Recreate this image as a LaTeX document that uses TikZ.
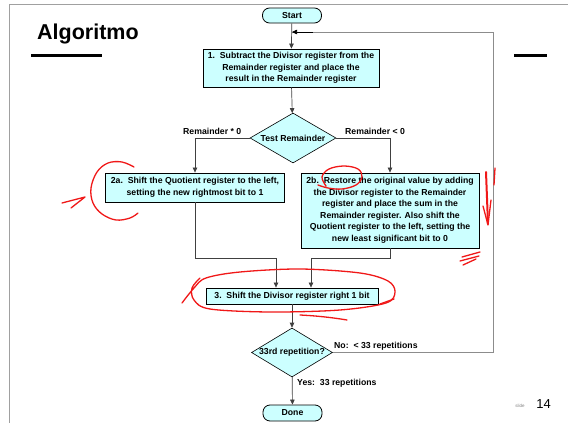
\documentclass[tikz,border=0pt]{standalone}
\usepackage{fontspec}
\setmainfont{Liberation Sans}
\usetikzlibrary{shapes.geometric,arrows.meta}
\definecolor{boxfill}{HTML}{CCFFFF}
\definecolor{framegray}{HTML}{A0A0A0}
\definecolor{wire}{HTML}{404040}
\definecolor{loopwire}{HTML}{8C8C8C}
\definecolor{pen}{HTML}{F01818}

\begin{document}
\begin{tikzpicture}[x=1pt,y=-1pt,
  every node/.style={font=\bfseries\fontsize{8.7}{11.5}\selectfont, inner sep=0pt},
  procbox/.style={draw=black, line width=0.8pt, fill=boxfill, align=center},
  terminal/.style={draw=black, line width=0.8pt, fill=boxfill, rounded corners=7pt,
                   minimum width=59pt, minimum height=15pt},
  decision/.style={diamond, draw=black, line width=0.6pt, fill=boxfill},
  flow/.style={draw=wire, line width=0.7pt, -{Triangle[length=5pt,width=4.5pt]}},
  plain/.style={draw=wire, line width=0.7pt},
  note/.style={anchor=west},
  ink/.style={draw=pen, line width=1.3pt, line cap=round, line join=round}]

\useasboundingbox (0,0) rectangle (568,423);

% slide frame, title and rules
\draw[framegray, line width=1pt] (9,423) -- (9,4) -- (568,4);
\node[anchor=base west, font=\bfseries\fontsize{21.5}{25}\selectfont] (title) at (37,39) {Algoritmo};
\fill (31,53.5) rectangle (102,57);
\fill (514,53.5) rectangle (547,57);

% flowchart nodes
\node[terminal] (start) at (292,15.5) {Start};
\node[procbox, minimum width=176pt, minimum height=38pt] (b1) at (291,68)
  {1.\ \ Subtract the Divisor register from the\\Remainder register and place the\\result in the Remainder register};
\node[decision, minimum width=86pt, minimum height=50pt] (d1) at (293,138) {};
\node (d1txt) at (d1.center) {Test Remainder};
\node[procbox, minimum width=179pt, minimum height=29pt] (b2a) at (195,187.5)
  {2a.\ \ Shift the Quotient register to the left,\\setting the new rightmost bit to 1};
\node[procbox, minimum width=178pt, minimum height=75pt] (b2b) at (390,210.5)
  {2b.\ \ Restore the original value by adding\\the Divisor register to the Remainder\\register and place the sum in the\\Remainder register. Also shift the\\Quotient register to the left, setting the\\new least significant bit to 0};
\node[procbox, minimum width=172pt, minimum height=16pt] (b3) at (292,296)
  {3.\ \ Shift the Divisor register right 1 bit};
\node[decision, minimum width=81pt, minimum height=49pt] (d2) at (292,352.5) {};
\node (d2txt) at (d2.center) {33rd repetition?};
\node[terminal, minimum height=16pt] (done) at (292.5,413) {Done};

% branch labels
\node[note] (lge) at (183,131) {Remainder * 0};
\node[note] (llt) at (345,131) {Remainder < 0};
\node[note] (lno) at (334,346) {No:\ \ < 33 repetitions};
\node[note] (lyes) at (297,383) {Yes:\ \ 33 repetitions};

% junction points
\coordinate (ja) at (276,258);
\coordinate (jb) at (311,258);
\coordinate (loopc) at (493,32);

% connectors
\draw[flow] (start) -- (b1);
\draw[flow] (b1) -- (d1);
\draw[flow] (d1.west) -| (b2a.north);
\draw[flow] (d1.east) -| (b2b.north);
\draw[plain] (b2a.south) |- (ja);
\draw[flow] (ja) -- (ja |- b3.north);
\draw[plain] (b2b.south) |- (jb);
\draw[flow] (jb) -- (jb |- b3.north);
\draw[flow] (b3) -- (d2);
\draw[flow] (d2) -- (done);
\draw[loopwire, line width=1pt] (d2.east) -| (loopc);
\draw[loopwire, line width=1pt] (loopc) -- (start.south |- loopc);
\draw[flow, draw=black] (loopc) ++(-180,0) -- (start.south |- loopc);

% page number
\node[font=\fontsize{4.5}{5}\selectfont, text=gray] (tag) at (520,406) {slide};
\node[font=\fontsize{13}{15}\selectfont, anchor=base] (pg) at (543.5,408) {14};

% red pen marks
\draw[ink] plot[smooth, tension=0.6] coordinates
  {(134,167) (122,162) (108,163) (97,172) (91,188) (93,203) (102,214) (116,220) (130,218) (138,213)};
\draw[ink] (62,203) -- (85,197) -- (71,208);
\draw[ink] plot[smooth, tension=0.6] coordinates
  {(326,186) (322,177) (329,169) (344,166) (358,169) (362,177) (356,185) (342,189) (328,188) (318,185)};
\draw[ink, line width=2pt] (486,172) -- (488,224);
\draw[ink] (483,206) -- (488,225) -- (491,200);
\draw[ink] (495,168) -- (494,185);
\draw[ink] (462,257) -- (480,252);
\draw[ink] (460,261) -- (479,256);
\draw[ink] (463,265) -- (476,259);
\draw[ink] plot[smooth, tension=0.55] coordinates
  {(182,303) (194,288) (206,278) (240,272) (300,269) (360,273) (388,281) (395,292) (386,303) (340,310) (270,312) (210,309) (194,300) (192,288) (200,278)};
\draw[ink] (300,315) .. controls (320,316) and (335,318) .. (347,320);
\draw[ink] (380,304) -- (394,299);
\end{tikzpicture}
\end{document}
